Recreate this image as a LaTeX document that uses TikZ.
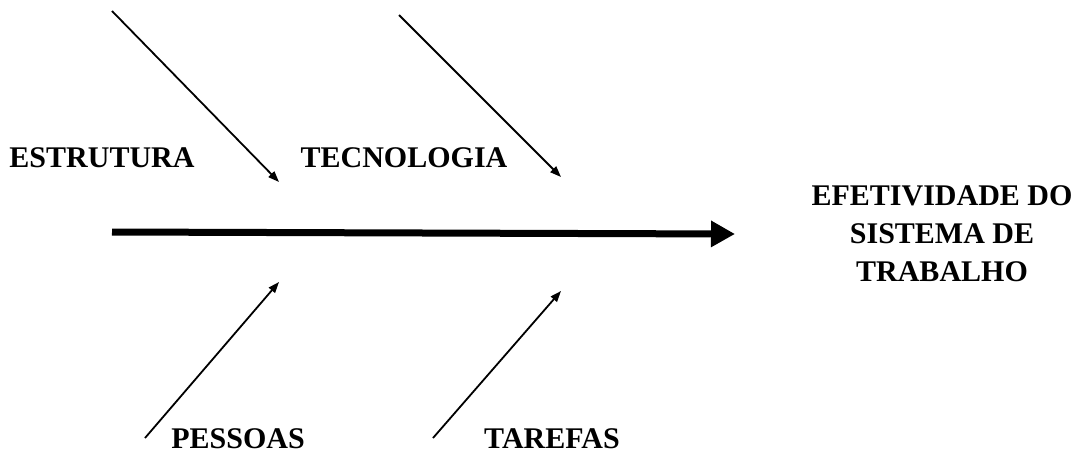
\documentclass[tikz,border=0pt]{standalone}
\usepackage{fontspec}
\setmainfont{Liberation Serif}
\usetikzlibrary{arrows.meta}
\begin{document}
\begin{tikzpicture}[x=1pt,y=-1pt,
  lbl/.style={font=\fontsize{30}{38}\selectfont\bfseries, inner sep=0pt, align=center},
  thin arrow/.style={line width=1.8pt, -{Triangle[length=11pt,width=8pt]}},
  main arrow/.style={line width=7pt, -{Triangle[length=24pt,width=25pt]}}]
\useasboundingbox (0,0) rectangle (1083,455);
% coordinates
\coordinate (s1) at (112,11);  \coordinate (e1) at (279,182);
\coordinate (s2) at (399,15);  \coordinate (e2) at (561,177);
\coordinate (s3) at (145,438); \coordinate (e3) at (279,282);
\coordinate (s4) at (433,438); \coordinate (e4) at (561,291);
\coordinate (m1) at (112,232); \coordinate (m2) at (735,234);
% labels
\node[lbl] (estr) at (102,158) {ESTRUTURA};
\node[lbl] (tec) at (404,158) {TECNOLOGIA};
\node[lbl] (pes) at (238,439) {PESSOAS};
\node[lbl] (tar) at (552,439) {TAREFAS};
\node[lbl] (ef) at (942,234) {EFETIVIDADE DO\\SISTEMA DE\\TRABALHO};
% arrows
\draw[thin arrow] (s1) -- (e1);
\draw[thin arrow] (s2) -- (e2);
\draw[thin arrow] (s3) -- (e3);
\draw[thin arrow] (s4) -- (e4);
\draw[main arrow] (m1) -- (m2);
\end{tikzpicture}
\end{document}
